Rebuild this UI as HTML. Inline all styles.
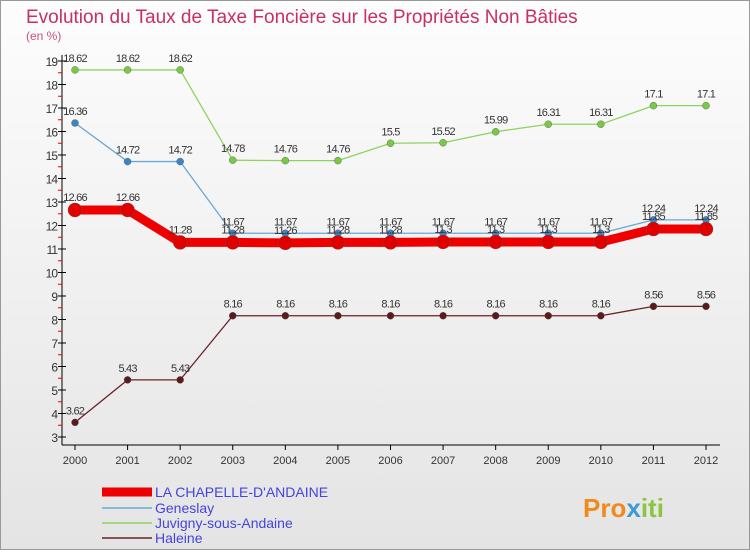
<!DOCTYPE html>
<html><head><meta charset="utf-8"><style>
body{margin:0;width:750px;height:550px;overflow:hidden;font-family:"Liberation Sans",sans-serif}
svg text{font-family:"Liberation Sans",sans-serif}
</style></head><body>
<svg id="c" width="750" height="550" xmlns="http://www.w3.org/2000/svg">
<defs><linearGradient id="bg" x1="0" y1="0" x2="0" y2="1"><stop offset="0" stop-color="#fdfdfd"/><stop offset="1" stop-color="#e4e4e4"/></linearGradient></defs>
<rect x="0.5" y="0.5" width="749" height="549" fill="url(#bg)" stroke="#999"/>
<text x="26" y="23" font-size="19" fill="#c8305f">Evolution du Taux de Taxe Foncière sur les Propriétés Non Bâties</text>
<text x="26" y="40" font-size="12" fill="#c8507a">(en %)</text>
<g id="axes"></g><g id="series"></g><g id="legend"></g>
<text x="583" y="517" font-size="26" font-weight="bold" fill="#f08a1c">Pro<tspan fill="#3a9ad9">x</tspan><tspan fill="#8cc63f">iti</tspan></text>
</svg>
<script>
const years=[2000,2001,2002,2003,2004,2005,2006,2007,2008,2009,2010,2011,2012];
const yTicks=[3,4,5,6,7,8,9,10,11,12,13,14,15,16,17,18,19];
const chapelle=[12.66,12.66,11.28,11.28,11.26,11.28,11.28,11.3,11.3,11.3,11.3,11.85,11.85];
const geneslay=[16.36,14.72,14.72,11.67,11.67,11.67,11.67,11.67,11.67,11.67,11.67,12.24,12.24];
const juvigny=[18.62,18.62,18.62,14.78,14.76,14.76,15.5,15.52,15.99,16.31,16.31,17.1,17.1];
const haleine=[3.62,5.43,5.43,8.16,8.16,8.16,8.16,8.16,8.16,8.16,8.16,8.56,8.56];
const NS="http://www.w3.org/2000/svg";
const X=i=>75+i*(706-75)/(years.length-1);
const Y=v=>437-(v-3)*(376/16);
function mk(tag,at,parent,txt){const e=document.createElementNS(NS,tag);for(const k in at)e.setAttribute(k,at[k]);if(txt!==undefined)e.textContent=txt;parent.appendChild(e);return e;}
const axes=document.getElementById('axes'),ser=document.getElementById('series'),leg=document.getElementById('legend');
let a=mk('line',{x1:62,y1:55,x2:62,y2:445,stroke:'#000'},axes);

a=mk('line',{x1:62,y1:445,x2:720,y2:445,stroke:'#000'},axes);

yTicks.forEach(v=>{
 let t=mk('line',{x1:58,y1:Y(v),x2:66,y2:Y(v),stroke:'#000'},axes);
 
 if(v<19){let m=mk('line',{x1:58,y1:Y(v+0.5),x2:62,y2:Y(v+0.5),stroke:'#e00'},axes);
 }
 let l=mk('text',{x:57,y:Y(v)+5,'font-size':12,'text-anchor':'end',fill:'#333','letter-spacing':'-1'},axes,v);
 
});
years.forEach((y,i)=>{
 let t=mk('line',{x1:X(i),y1:445,x2:X(i),y2:450,stroke:'#000'},axes);
 
 let l=mk('text',{x:X(i),y:464,'font-size':11,'text-anchor':'middle',fill:'#333'},axes,y);
 
});
const series=[
 {name:'haleine',label:'Haleine',data:haleine,c:'#6b2126',w:1.3,r:3.5,dot:'#5a1a1e'},
 {name:'juvigny',label:'Juvigny-sous-Andaine',data:juvigny,c:'#8fd35f',w:1.3,r:3.5,dot:'#7ac943'},
 {name:'geneslay',label:'Geneslay',data:geneslay,c:'#6aa8d8',w:1.3,r:3.5,dot:'#3a86c4'},
 {name:'chapelle',label:"LA CHAPELLE-D'ANDAINE",data:chapelle,c:'#ee0000',w:9,r:7,dot:'#e00000'}
];
series.forEach(s=>{
 const g=mk('g',{},ser);
 
 let p=mk('polyline',{points:s.data.map((v,i)=>X(i)+','+Y(v)).join(' '),fill:'none',stroke:s.c,'stroke-width':s.w,'stroke-linejoin':'round'},g);
 
 s.data.forEach((v,i)=>{
  let c=mk('circle',{cx:X(i),cy:Y(v),r:s.r,fill:s.dot,stroke:'#555','stroke-width':0.4},g);
  
  let l=mk('text',{x:X(i),y:Y(v)-(s.w>5?9:8),'font-size':11,'text-anchor':'middle',fill:'#333','letter-spacing':'-0.8'},g,v);
  
 });
});
[["LA CHAPELLE-D'ANDAINE",'#ee0000',9,497],['Geneslay','#6aa8d8',1.5,513],['Juvigny-sous-Andaine','#8fd35f',1.5,528],['Haleine','#6b2126',1.5,543]].forEach(e=>{
 const g=mk('g',{},leg);
 
 mk('line',{x1:102,y1:e[3]-5,x2:152,y2:e[3]-5,stroke:e[1],'stroke-width':e[2]},g);
 mk('text',{x:155,y:e[3],'font-size':14,fill:'#4444dd'},g,e[0]);
});
</script>
</body></html>
